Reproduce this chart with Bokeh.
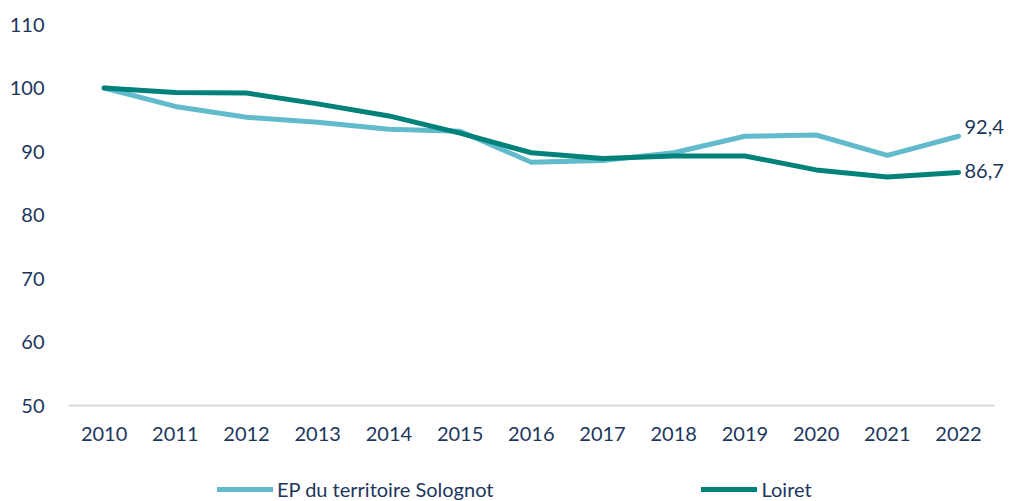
from bokeh.plotting import figure
from bokeh.layouts import column
from bokeh.models import ColumnDataSource, FixedTicker, Legend, LegendItem, LabelSet
from bokeh.core.properties import value
from bokeh.embed import file_html
from bokeh.resources import INLINE

# ---- data ----
years = [2010, 2011, 2012, 2013, 2014, 2015, 2016, 2017, 2018, 2019, 2020, 2021, 2022]
ep_sologne = [100.0, 97.1, 95.4, 94.6, 93.5, 93.2, 88.3, 88.6, 89.8, 92.4, 92.6, 89.4, 92.4]
loiret = [100.0, 99.3, 99.2, 97.5, 95.6, 92.9, 89.8, 88.9, 89.3, 89.3, 87.1, 86.0, 86.7]
series_names = ["EP du territoire Solognot", "Loiret"]
y_ticks = [50, 60, 70, 80, 90, 100, 110]

# ---- style ----
LIGHT = "#62BBCD"
DARK = "#00827A"
TXT = "#1B365D"
FONT = "Lato"
FS = "20px"

p = figure(width=1011, height=470, output_backend="svg", toolbar_location=None,
           x_range=(2009.5, 2022.744), y_range=(50, 110),
           min_border_left=68, min_border_right=0, min_border_top=24, min_border_bottom=65)
p.outline_line_color = None
p.xgrid.grid_line_color = None
p.ygrid.grid_line_color = None

src = ColumnDataSource(dict(x=years, ep=ep_sologne, lo=loiret))
p.line("x", "ep", source=src, line_color=LIGHT, line_width=5, line_cap="round", line_join="round")
p.line("x", "lo", source=src, line_color=DARK, line_width=5, line_cap="round", line_join="round")

# end labels
end_vals = [ep_sologne[-1], loiret[-1]]
lab_src = ColumnDataSource(dict(x=[years[-1], years[-1]], y=end_vals,
                                t=[f"{v:.1f}".replace(".", ",") for v in end_vals],
                                yo=[9, 1]))
p.add_layout(LabelSet(x="x", y="y", text="t", source=lab_src, x_offset=6, y_offset="yo",
                      text_font=value(FONT), text_font_size=value(FS), text_color=TXT,
                      text_align="left", text_baseline="middle"))

p.xaxis.ticker = FixedTicker(ticks=years)
p.yaxis.ticker = FixedTicker(ticks=y_ticks)
for ax in (p.xaxis[0], p.yaxis[0]):
    ax.major_tick_line_color = None
    ax.minor_tick_line_color = None
    ax.major_label_text_font = FONT
    ax.major_label_text_font_size = FS
    ax.major_label_text_color = TXT
p.xaxis.bounds = (2009.5, 2022.5)
p.xaxis.axis_line_color = "#D9D9D9"
p.xaxis.axis_line_width = 2
p.xaxis.major_label_standoff = 15
p.yaxis.axis_line_color = None
p.yaxis.major_label_standoff = 18

# ---- legend strip ----
lg = figure(width=1011, height=35, output_backend="svg", toolbar_location=None,
            x_range=(0, 1), y_range=(0, 1), x_axis_location=None, y_axis_location=None,
            min_border=0)
lg.outline_line_color = None
lg.xgrid.grid_line_color = None
lg.ygrid.grid_line_color = None
# series drawn off-view: only their legend glyphs show
l1 = lg.line(years, ep_sologne, line_color=LIGHT, line_width=5, line_cap="round")
l2 = lg.line(years, loiret, line_color=DARK, line_width=5, line_cap="round")
legend = Legend(items=[LegendItem(label=series_names[0], renderers=[l1]),
                       LegendItem(label=series_names[1], renderers=[l2])],
                orientation="horizontal", location=(149, 4),
                padding=0, margin=0, spacing=208,
                glyph_width=56, glyph_height=20, label_standoff=4, label_height=20,
                label_text_font=FONT, label_text_font_size=FS, label_text_color=TXT,
                border_line_color=None, background_fill_alpha=0)
lg.add_layout(legend, "center")

open("out.html", "w").write(file_html(column(p, lg), INLINE))
